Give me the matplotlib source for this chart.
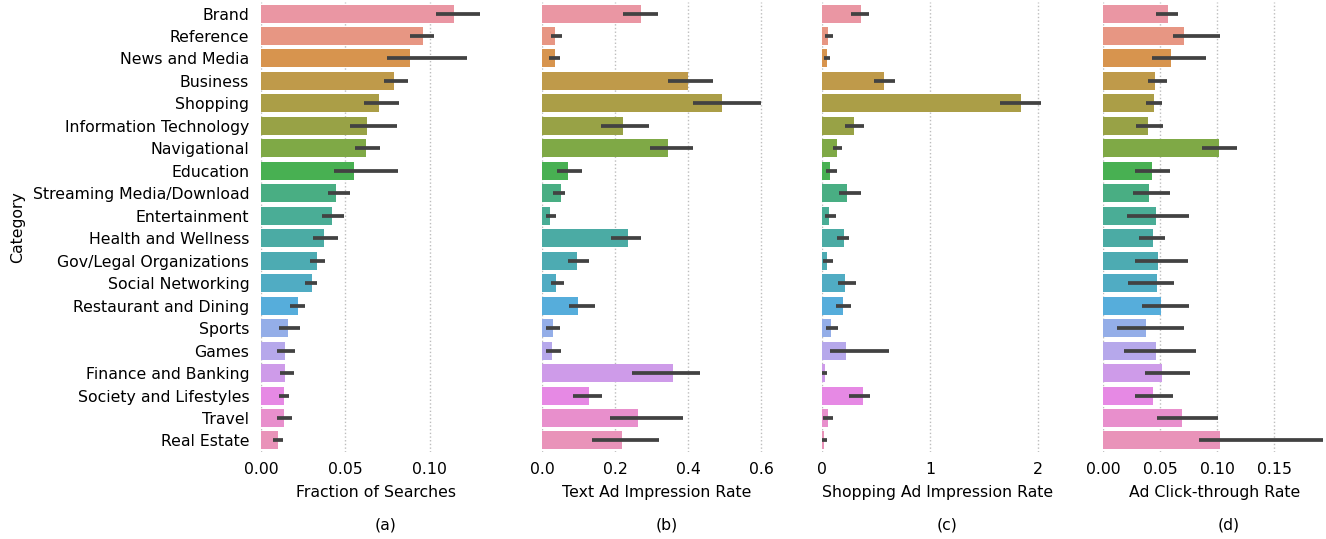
import matplotlib
matplotlib.use("Agg")
import matplotlib.pyplot as plt
import seaborn as sns
import numpy as np

categories = [
    "Brand", "Reference", "News and Media", "Business", "Shopping",
    "Information Technology", "Navigational", "Education",
    "Streaming Media/Download", "Entertainment", "Health and Wellness",
    "Gov/Legal Organizations", "Social Networking", "Restaurant and Dining",
    "Sports", "Games", "Finance and Banking", "Society and Lifestyles",
    "Travel", "Real Estate",
]

# (a) Fraction of searches: mean and 95% CI bounds
frac_mean = [0.1143, 0.0961, 0.0884, 0.0789, 0.0700, 0.0629, 0.0623, 0.0552,
             0.0445, 0.0421, 0.0374, 0.0332, 0.0302, 0.0219, 0.0160, 0.0142,
             0.0142, 0.0136, 0.0136, 0.0101]
frac_lo = [0.1036, 0.0884, 0.0745, 0.0730, 0.0610, 0.0530, 0.0556, 0.0435,
           0.0395, 0.0364, 0.0310, 0.0289, 0.0260, 0.0172, 0.0109, 0.0093,
           0.0110, 0.0109, 0.0097, 0.0071]
frac_hi = [0.1300, 0.1024, 0.1220, 0.0870, 0.0817, 0.0808, 0.0704, 0.0814,
           0.0528, 0.0494, 0.0459, 0.0378, 0.0330, 0.0260, 0.0231, 0.0200,
           0.0196, 0.0164, 0.0184, 0.0132]

# (b) Text ad impression rate
text_mean = [0.271, 0.036, 0.036, 0.400, 0.493, 0.222, 0.345, 0.071,
             0.052, 0.022, 0.236, 0.096, 0.038, 0.099, 0.030, 0.027,
             0.359, 0.129, 0.263, 0.219]
text_lo = [0.223, 0.024, 0.019, 0.345, 0.415, 0.163, 0.295, 0.042,
           0.031, 0.010, 0.188, 0.072, 0.025, 0.073, 0.010, 0.012,
           0.246, 0.085, 0.187, 0.137]
text_hi = [0.318, 0.055, 0.049, 0.469, 0.599, 0.292, 0.414, 0.110,
           0.064, 0.038, 0.270, 0.130, 0.060, 0.144, 0.049, 0.052,
           0.434, 0.164, 0.387, 0.321]

# (c) Shopping ad impression rate
shop_mean = [0.358, 0.053, 0.044, 0.571, 1.840, 0.293, 0.136, 0.071,
             0.229, 0.062, 0.201, 0.044, 0.210, 0.192, 0.080, 0.219,
             0.022, 0.377, 0.053, 0.015]
shop_lo = [0.266, 0.025, 0.013, 0.479, 1.643, 0.207, 0.096, 0.037,
           0.154, 0.025, 0.133, 0.004, 0.145, 0.127, 0.031, 0.068,
           0.000, 0.247, 0.009, 0.000]
shop_hi = [0.432, 0.102, 0.071, 0.670, 2.025, 0.389, 0.185, 0.133,
           0.355, 0.130, 0.244, 0.099, 0.309, 0.263, 0.148, 0.615,
           0.046, 0.441, 0.102, 0.040]

# (d) Ad click-through rate
ctr_mean = [0.0567, 0.0708, 0.0594, 0.0454, 0.0445, 0.0392, 0.1015, 0.0427,
            0.0401, 0.0462, 0.0436, 0.0480, 0.0470, 0.0506, 0.0375, 0.0462,
            0.0515, 0.0436, 0.0690, 0.1024]
ctr_lo = [0.0460, 0.0611, 0.0427, 0.0395, 0.0372, 0.0284, 0.0866, 0.0278,
          0.0258, 0.0205, 0.0316, 0.0275, 0.0217, 0.0342, 0.0120, 0.0179,
          0.0366, 0.0278, 0.0468, 0.0837]
ctr_hi = [0.0658, 0.1024, 0.0898, 0.0559, 0.0515, 0.0521, 0.1170, 0.0585,
          0.0585, 0.0749, 0.0538, 0.0743, 0.0617, 0.0752, 0.0710, 0.0816,
          0.0758, 0.0609, 0.1006, 0.1927]

panels = [
    ("Fraction of Searches", "(a)", frac_mean, frac_lo, frac_hi,
     [0.0, 0.05, 0.10], ["0.00", "0.05", "0.10"], 0.1365),
    ("Text Ad Impression Rate", "(b)", text_mean, text_lo, text_hi,
     [0.0, 0.2, 0.4, 0.6], ["0.0", "0.2", "0.4", "0.6"], 0.629),
    ("Shopping Ad Impression Rate", "(c)", shop_mean, shop_lo, shop_hi,
     [0, 1, 2], ["0", "1", "2"], 2.126),
    ("Ad Click-through Rate", "(d)", ctr_mean, ctr_lo, ctr_hi,
     [0.0, 0.05, 0.10, 0.15], ["0.00", "0.05", "0.10", "0.15"], 0.1955),
]

plt.rcParams["font.family"] = ["DejaVu Sans"]
FS = 11.35

W, H = 1326, 539
fig = plt.figure(figsize=(W / 100, H / 100), dpi=100)

colors = sns.husl_palette(len(categories), l=0.7)
colors = [sns.desaturate(c, 0.75) for c in colors]

lefts = [261, 542, 822.3, 1103.3]
px_per_unit = [1686, 365, 108, 1140]
top_px, bottom_px = 2.3, 451.7
ypos = np.arange(len(categories))

for i, (xlabel, tag, mean, lo, hi, ticks, ticklabels, xmax) in enumerate(panels):
    width_px = xmax * px_per_unit[i]
    ax = fig.add_axes([lefts[i] / W, (H - bottom_px) / H,
                       width_px / W, (bottom_px - top_px) / H])
    ax.barh(ypos, mean, height=0.8, color=colors, zorder=2)
    for y, l, h in zip(ypos, lo, hi):
        ax.plot([l, h], [y, y], color="0.26", lw=2.7,
                solid_capstyle="butt", zorder=3)
    ax.set_ylim(len(categories) - 0.5, -0.5)
    ax.set_xlim(0, xmax)
    ax.set_xticks(ticks)
    ax.set_xticklabels(ticklabels, fontsize=FS)
    ax.set_xlabel(xlabel, fontsize=FS, labelpad=5.5)
    ax.grid(axis="x", linestyle=":", color="0.74", lw=1.0, zorder=0)
    ax.grid(axis="y", visible=False)
    ax.set_axisbelow(True)
    for s in ax.spines.values():
        s.set_visible(False)
    ax.tick_params(axis="both", length=0)
    ax.tick_params(axis="x", pad=7.5)
    if i == 0:
        ax.set_yticks(ypos)
        ax.set_yticklabels(categories, fontsize=FS)
        ax.tick_params(axis="y", pad=8.5)
        ax.set_ylabel("Category", fontsize=FS, labelpad=5.5)
    else:
        ax.set_yticks([])
    fig.text((lefts[i] + 125) / W, 1 - 525 / H, tag, ha="center",
             va="center", fontsize=FS)

fig.savefig("out.png", dpi=100)
